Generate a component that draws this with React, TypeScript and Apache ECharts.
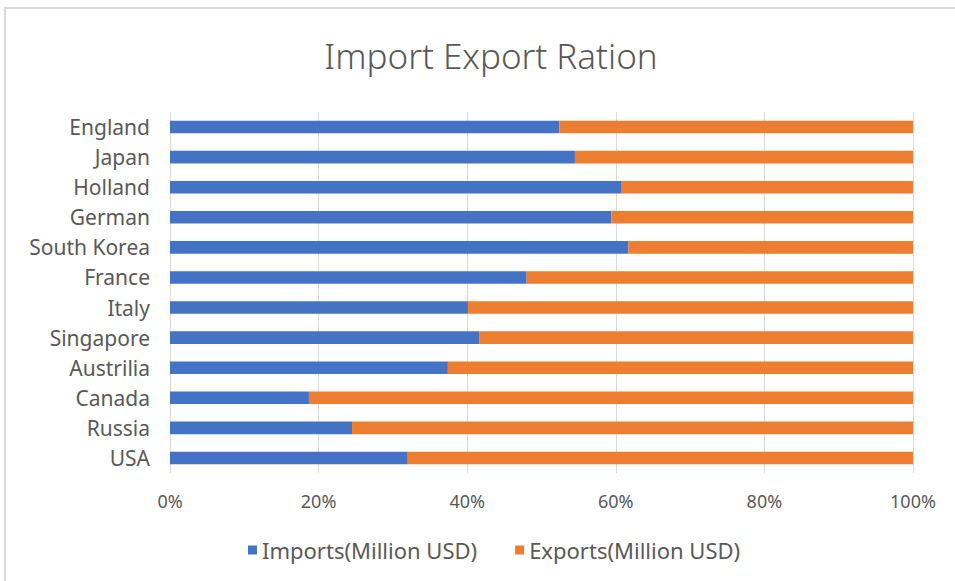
import React, { useEffect, useRef } from "react";
import * as echarts from "echarts";

const categories = ["USA", "Russia", "Canada", "Austrilia", "Singapore", "Italy", "France", "South Korea", "German", "Holland", "Japan", "England"];
const imports = [32.0, 24.5, 18.7, 37.4, 41.6, 40.1, 48.0, 61.7, 59.4, 60.8, 54.5, 52.4];
const exportsData = [68.0, 75.5, 81.3, 62.6, 58.4, 59.9, 52.0, 38.3, 40.6, 39.2, 45.5, 47.6];
const xTicks = [0, 20, 40, 60, 80, 100];

export default function App() {
  const ref = useRef<HTMLDivElement>(null);
  useEffect(() => {
    if (!ref.current) return;
    const chart = echarts.init(ref.current, undefined, { renderer: "svg" });
    const font = "Noto Sans";
    chart.setOption({
      animation: false,
      backgroundColor: "#ffffff",
      textStyle: { fontFamily: font },
      graphic: [
        {
          type: "rect",
          shape: { x: 5, y: 8, width: 980, height: 600 },
          style: { fill: "none", stroke: "#d9d9d9", lineWidth: 2 },
          silent: true,
        },
      ],
      title: {
        text: "Import Export Ration",
        left: 486,
        textAlign: "center",
        top: 33,
        textStyle: { fontFamily: font, fontSize: 35, fontWeight: 300, color: "#595959" },
      },
      legend: {
        top: 534,
        left: 243,
        icon: "rect",
        itemWidth: 9,
        itemHeight: 9,
        itemGap: 38,
        textStyle: { fontFamily: font, fontSize: 22, color: "#595959" },
        data: ["Imports(Million USD)", "Exports(Million USD)"],
      },
      grid: { left: 170, right: 42, top: 112, bottom: 108, containLabel: false },
      xAxis: {
        type: "value",
        min: xTicks[0],
        max: xTicks[xTicks.length - 1],
        interval: 20,
        axisLine: { show: false },
        axisTick: { show: false },
        splitLine: { lineStyle: { color: "#d9d9d9", width: 1 } },
        axisLabel: { formatter: "{value}%", fontSize: 18, color: "#595959", margin: 19, fontFamily: font },
      },
      yAxis: {
        type: "category",
        data: categories,
        axisLine: { show: false },
        axisTick: { show: false },
        axisLabel: { fontSize: 21, color: "#595959", margin: 20, fontFamily: font },
      },
      series: [
        {
          name: "Imports(Million USD)",
          type: "bar",
          stack: "total",
          barWidth: "42%",
          itemStyle: { color: "#4472C4" },
          data: imports,
        },
        {
          name: "Exports(Million USD)",
          type: "bar",
          stack: "total",
          barWidth: "42%",
          itemStyle: { color: "#ED7D31" },
          data: exportsData,
        },
      ],
    });
    return () => chart.dispose();
  }, []);
  return (
    <div
      ref={ref}
      style={{ position: "absolute", left: 0, top: 0, width: 955, height: 581 }}
    />
  );
}
